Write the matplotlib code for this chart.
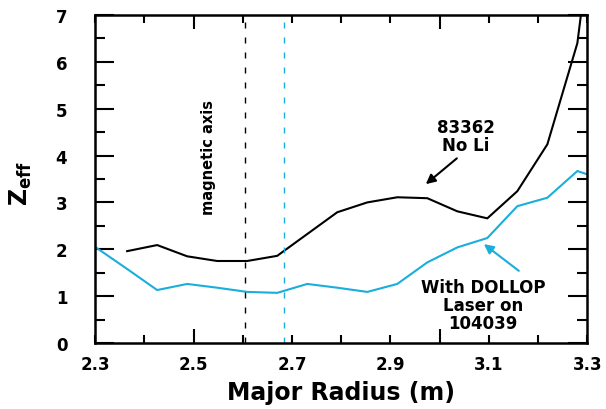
#!/usr/bin/env python3

import matplotlib
matplotlib.use("Agg")
from matplotlib import pyplot as plt
from matplotlib.ticker import MultipleLocator

plt.rcParams['font.family'] = ['DejaVu Sans']
plt.rcParams['font.weight'] = 'bold'
plt.rcParams['mathtext.fontset'] = 'dejavusans'

# shot 83362, no lithium
r_noli = [2.365, 2.426, 2.487, 2.548, 2.609, 2.670, 2.792, 2.853, 2.914,
          2.975, 3.036, 3.097, 3.158, 3.219, 3.280, 3.292]
z_noli = [1.96, 2.09, 1.85, 1.75, 1.75, 1.86, 2.79, 3.00, 3.11,
          3.09, 2.81, 2.66, 3.24, 4.24, 6.40, 7.40]

# shot 104039, DOLLOP laser on
r_laser = [2.300, 2.365, 2.426, 2.487, 2.548, 2.609, 2.670, 2.731, 2.792,
           2.853, 2.914, 2.975, 3.036, 3.097, 3.158, 3.219, 3.280, 3.300]
z_laser = [2.05, 1.58, 1.13, 1.26, 1.18, 1.09, 1.07, 1.26, 1.18,
           1.09, 1.26, 1.72, 2.04, 2.24, 2.92, 3.10, 3.67, 3.60]

axis_noli = 2.605
axis_laser = 2.683

xtick_labels = [2.3, 2.5, 2.7, 2.9, 3.1, 3.3]
CYAN = '#1aaedc'


def arrow(ax, tail, head, color):
    ax.annotate("", xy=head, xytext=tail,
                arrowprops=dict(arrowstyle='-|>', color=color, lw=1.5,
                                mutation_scale=14, shrinkA=0, shrinkB=0))


def main():
    fig = plt.figure(figsize=(6.06, 4.10), dpi=100)
    ax = fig.add_axes([0.157, 0.161, 0.812, 0.800])

    ax.plot(r_noli, z_noli, color='black', lw=1.5)
    ax.plot(r_laser, z_laser, color=CYAN, lw=1.5)

    ax.axvline(axis_noli, color='black', lw=1.0, dashes=(4.3, 6.5))
    ax.axvline(axis_laser, color=CYAN, lw=1.0, dashes=(4.3, 6.5))

    ax.text(2.530, 3.97, "magnetic axis", rotation=90, ha='center',
            va='center', fontsize=10.5, fontweight='bold')

    ax.text(3.054, 4.41, "83362\nNo Li", ha='center', va='center',
            fontsize=12, linespacing=1.0)
    arrow(ax, (3.035, 3.94), (2.972, 3.39), 'black')

    ax.text(3.088, 0.81, "With DOLLOP\nLaser on\n104039", ha='center',
            va='center', fontsize=12, linespacing=1.0)
    arrow(ax, (3.161, 1.54), (3.09, 2.11), CYAN)

    ax.set_xlim(2.3, 3.3)
    ax.set_ylim(0, 7)

    for s in ax.spines.values():
        s.set_linewidth(1.8)

    ax.xaxis.set_major_locator(MultipleLocator(0.5))
    ax.xaxis.set_minor_locator(MultipleLocator(0.1))
    ax.yaxis.set_major_locator(MultipleLocator(1))
    ax.yaxis.set_minor_locator(MultipleLocator(0.5))
    ax.tick_params(axis='x', which='major', direction='in', length=10,
                   width=1.5, top=True, bottom=True, labelbottom=False)
    ax.tick_params(axis='x', which='minor', direction='in', length=5.5,
                   width=1.5, top=True, bottom=True)
    ax.tick_params(axis='y', which='major', direction='in', length=14,
                   width=1.5, left=True, right=True, labelsize=12, pad=20)
    ax.tick_params(axis='y', which='minor', direction='in', length=7.5,
                   width=1.5, left=True, right=True)

    sec = ax.secondary_xaxis('bottom')
    sec.set_xticks(xtick_labels)
    sec.set_xticklabels([f"{v:.1f}" for v in xtick_labels])
    sec.tick_params(length=0, labelsize=12, pad=9)
    sec.spines['bottom'].set_visible(False)
    sec.set_xlabel("Major Radius (m)", fontsize=17, fontweight='bold',
                   labelpad=5)

    ax.set_ylabel(r"$\mathbf{Z_{eff}}$", fontsize=17)
    ax.yaxis.set_label_coords(-0.125, 0.49)

    fig.savefig("out.png", dpi=100)


if __name__ == "__main__":
    main()
